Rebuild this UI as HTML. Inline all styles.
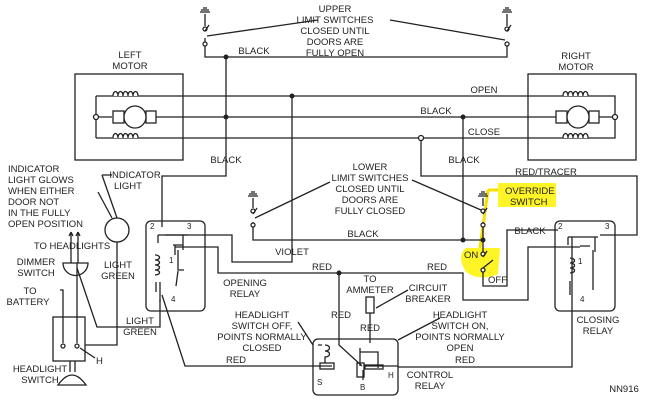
<!DOCTYPE html>
<html><head><style>
html,body{margin:0;padding:0;background:#fff;width:670px;height:400px;overflow:hidden}
svg text{font-family:"Liberation Sans",sans-serif;font-size:9.5px;fill:#222;}
</style></head><body>
<svg width="670" height="400" viewBox="0 0 670 400" xmlns="http://www.w3.org/2000/svg">
<path d="M466 248 q-10 8 0 24 q14 10 32 2 l2 -26 z" fill="#fff200" opacity="0.85"/>
<rect x="498" y="183" width="58" height="24" fill="#fff200" opacity="0.85"/>
<path d="M488 190 l10 0 M488 190 l-8 58" stroke="#f5e000" stroke-width="3" fill="none"/>
<g fill="none" stroke="#222" stroke-width="1.3">
<!-- upper limit switches -->
<path d="M205 14 v12 M205 38 v19 h302 v-12 M507 14 v12"/>
<path d="M200 12 h10 M201 10 h8 M203 8 h4 M502 12 h10 M503 10 h8 M505 8 h4"/>
<circle cx="205" cy="29" r="2" fill="#fff"/><circle cx="205" cy="44" r="2" fill="#fff"/>
<circle cx="507" cy="29" r="2" fill="#fff"/><circle cx="507" cy="44" r="2" fill="#fff"/>
<path d="M205 31 l4 -6 M507 31 l4 -6 M207 36 L318 20 M505 40 L390 20"/>
<!-- motors -->
<rect x="75" y="74" width="108" height="86"/>
<rect x="528" y="74" width="108" height="86"/>
<path d="M96 96 v42 M96 96 H615 v42 H96 M96 117 h16 M155 117 H563 M593 117 h20"/>
<circle cx="96" cy="117" r="2.5" fill="#fff"/><circle cx="615" cy="117" r="2.5" fill="#fff"/>
<rect x="113" y="111" width="11" height="12" fill="#fff"/><rect x="146" y="111" width="10" height="12" fill="#fff"/>
<circle cx="135" cy="117" r="11" fill="#fff"/>
<rect x="556" y="111" width="11" height="12" fill="#fff"/><rect x="589" y="111" width="10" height="12" fill="#fff"/>
<circle cx="578" cy="117" r="11" fill="#fff"/>
<path d="M113 96 c0 -6 5 -6 5 0 c0 -6 5 -6 5 0 c0 -6 5 -6 5 0 c0 -6 5 -6 5 0 c0 -6 5 -6 5 0" fill="#fff"/>
<path d="M113 138 c0 -6 5 -6 5 0 c0 -6 5 -6 5 0 c0 -6 5 -6 5 0 c0 -6 5 -6 5 0 c0 -6 5 -6 5 0" fill="#fff"/>
<path d="M563 96 c0 -6 5 -6 5 0 c0 -6 5 -6 5 0 c0 -6 5 -6 5 0 c0 -6 5 -6 5 0 c0 -6 5 -6 5 0" fill="#fff"/>
<path d="M563 138 c0 -6 5 -6 5 0 c0 -6 5 -6 5 0 c0 -6 5 -6 5 0 c0 -6 5 -6 5 0 c0 -6 5 -6 5 0" fill="#fff"/>
<!-- black verticals -->
<path d="M226 57 V176 H162 V227"/>
<path d="M292 96 V262 H232 V235 H165"/>
<path d="M463 117 V240"/>
<path d="M421 138 V176 H637 V235 H600"/>
<circle cx="421" cy="138" r="2.5" fill="#fff"/>
<!-- lower limit switches -->
<path d="M253 198 v10 M253 222 v18 H483 M483 198 v8 M483 222 v33 M483 270 v16 h24 V230 H558"/>
<path d="M248 196 h10 M249 194 h8 M251 192 h4 M478 196 h10 M479 194 h8 M481 192 h4"/>
<circle cx="253" cy="211" r="2" fill="#fff"/><circle cx="253" cy="225" r="2" fill="#fff"/>
<circle cx="483" cy="211" r="2" fill="#fff"/><circle cx="483" cy="225" r="2" fill="#fff"/>
<circle cx="483" cy="254" r="2" fill="#fff"/><circle cx="483" cy="270" r="2" fill="#fff"/>
<path d="M253 214 l4 -6 M483 214 l4 -6 M483 257 l4 -6 M483 268 l10 -8 M255 218 L330 182 M481 210 L412 180"/>
<!-- red lines -->
<path d="M175 247 H218 V273 H463 V300 H528 V247 H580"/>
<path d="M339 273 V345 L362 366"/>
<!-- opening relay -->
<rect x="146" y="221" width="59" height="90" rx="5"/>
<path d="M158 235 h30 M158 235 v8 M183 235 v15 M173 245 h10 M175 245 v10 M155 255 c6 0 6 5 0 5 c6 0 6 5 0 5 c6 0 6 5 0 5 c6 0 6 5 0 5 M156 282 v10 M160 282 v18 M160 292 v10 M184 270 h-6 v-20 M176 286 l2 -15"/>
<path d="M162 295 L185 366 H332"/>
<!-- closing relay -->
<rect x="555" y="221" width="60" height="90" rx="5"/>
<path d="M568 237 h30 M568 237 v8 M595 237 v15 M580 246 h10 M570 258 c6 0 6 5 0 5 c6 0 6 5 0 5 c6 0 6 5 0 5 M570 281 v14 M572 237 v130 H398 M593 250 v40"/>
<!-- control relay -->
<rect x="313" y="339" width="85" height="56" rx="5"/>
<path d="M318 345 h4 M325 345 c6 0 6 6 0 6 c6 0 6 6 0 6 v6 M360 348 v18 M360 352 h18 v16 M365 366 h33 M363 370 v10"/>
<rect x="320" y="363" width="14" height="6"/>
<rect x="357" y="363" width="7" height="14"/>
<rect x="365" y="365" width="18" height="4"/>
<!-- circuit breaker -->
<rect x="366" y="297" width="8" height="16"/>
<path d="M370 313 v30 M376 308 L408 290 M398 340 L440 318 M313 345 L298 322"/>
<!-- left side -->
<circle cx="117" cy="230" r="12"/>
<path d="M117 218 L102 175 M98 192 L112 218 M112 175 L102 175"/>
<path d="M117 242 V345 H85"/>
<path d="M63 263 h25 a12 12 0 0 1 -25 0 z" fill="#fff"/>
<path d="M71 263 V232 M78 263 V232 M71 232 l-2 4 M71 232 l2 4 M78 232 l-2 4 M78 232 l2 4"/>
<rect x="53" y="317" width="32" height="44"/>
<path d="M60 290 h3 V343 M77 268 L97 327 H160 V300 M77 263 V343 M70 361 V372 M75 361 V372 M58 385 q14 -20 28 0 z"/>
<circle cx="63" cy="346" r="2" fill="#fff"/><circle cx="77" cy="346" r="2" fill="#fff"/>
<path d="M80 348 L95 358"/>
</g>
<g fill="#222">
<circle cx="226" cy="57" r="2.5"/><circle cx="292" cy="96" r="2.5"/><circle cx="226" cy="117" r="2.5"/>
<circle cx="463" cy="117" r="2.5"/><circle cx="463" cy="240" r="2.5"/><circle cx="483" cy="240" r="2.5"/>
<circle cx="339" cy="273" r="2.5"/>
</g>
<g text-anchor="middle">
<text x="335" y="12">UPPER</text><text x="335" y="23">LIMIT SWITCHES</text><text x="335" y="34">CLOSED UNTIL</text><text x="335" y="45">DOORS ARE</text><text x="335" y="56">FULLY OPEN</text>
<text x="130" y="58">LEFT</text><text x="130" y="69">MOTOR</text>
<text x="576" y="59">RIGHT</text><text x="576" y="70">MOTOR</text>
<text x="254" y="54">BLACK</text><text x="484" y="93">OPEN</text><text x="436" y="114">BLACK</text><text x="484" y="135">CLOSE</text>
<text x="226" y="163">BLACK</text><text x="464" y="163">BLACK</text><text x="546" y="175">RED/TRACER</text>
<text x="370" y="170">LOWER</text><text x="370" y="181">LIMIT SWITCHES</text><text x="370" y="192">CLOSED UNTIL</text><text x="370" y="203">DOORS ARE</text><text x="370" y="214">FULLY CLOSED</text>
<text x="363" y="237">BLACK</text><text x="292" y="255">VIOLET</text><text x="530" y="234">BLACK</text>
<text x="322" y="270">RED</text><text x="437" y="270">RED</text><text x="341" y="318">RED</text><text x="370" y="331">RED</text><text x="236" y="363">RED</text><text x="465" y="363">RED</text>
<text x="370" y="282">TO</text><text x="370" y="293">AMMETER</text>
<text x="428" y="291">CIRCUIT</text><text x="428" y="302">BREAKER</text>
<text x="262" y="318">HEADLIGHT</text><text x="262" y="329">SWITCH OFF,</text><text x="262" y="340">POINTS NORMALLY</text><text x="262" y="351">CLOSED</text>
<text x="460" y="318">HEADLIGHT</text><text x="460" y="329">SWITCH ON,</text><text x="460" y="340">POINTS NORMALLY</text><text x="460" y="351">OPEN</text>
<text x="430" y="378">CONTROL</text><text x="430" y="389">RELAY</text>
<text x="598" y="323">CLOSING</text><text x="598" y="334">RELAY</text>
<text x="245" y="286">OPENING</text><text x="245" y="297">RELAY</text>
<text x="140" y="324">LIGHT</text><text x="140" y="335">GREEN</text>
<text x="118" y="268">LIGHT</text><text x="118" y="279">GREEN</text>
<text x="135" y="178">INDICATOR</text><text x="128" y="189">LIGHT</text>
<text x="40" y="372">HEADLIGHT</text><text x="40" y="383">SWITCH</text>
<text x="72" y="249">TO HEADLIGHTS</text>
<text x="36" y="265">DIMMER</text><text x="36" y="276">SWITCH</text>
<text x="30" y="294">TO</text><text x="28" y="305">BATTERY</text>
<text x="624" y="392">NN916</text>
</g>
<text x="8" y="172">INDICATOR</text><text x="8" y="183">LIGHT GLOWS</text><text x="8" y="194">WHEN EITHER</text><text x="8" y="205">DOOR NOT</text><text x="8" y="216">IN THE FULLY</text><text x="8" y="227">OPEN POSITION</text>
<text x="505" y="194">OVERRIDE</text><text x="510" y="205">SWITCH</text>
<text x="464" y="258">ON</text><text x="488" y="283">OFF</text>
<text x="96" y="364">H</text>
<text x="150" y="229" style="font-size:8px">2</text><text x="187" y="229" style="font-size:8px">3</text><text x="169" y="263" style="font-size:8px">1</text><text x="171" y="302" style="font-size:8px">4</text>
<text x="558" y="229" style="font-size:8px">2</text><text x="605" y="229" style="font-size:8px">3</text><text x="578" y="264" style="font-size:8px">1</text><text x="580" y="302" style="font-size:8px">4</text>
<text x="317" y="385" style="font-size:8px">S</text><text x="360" y="390" style="font-size:8px">B</text><text x="388" y="378" style="font-size:8px">H</text>
</svg>
</body></html>
